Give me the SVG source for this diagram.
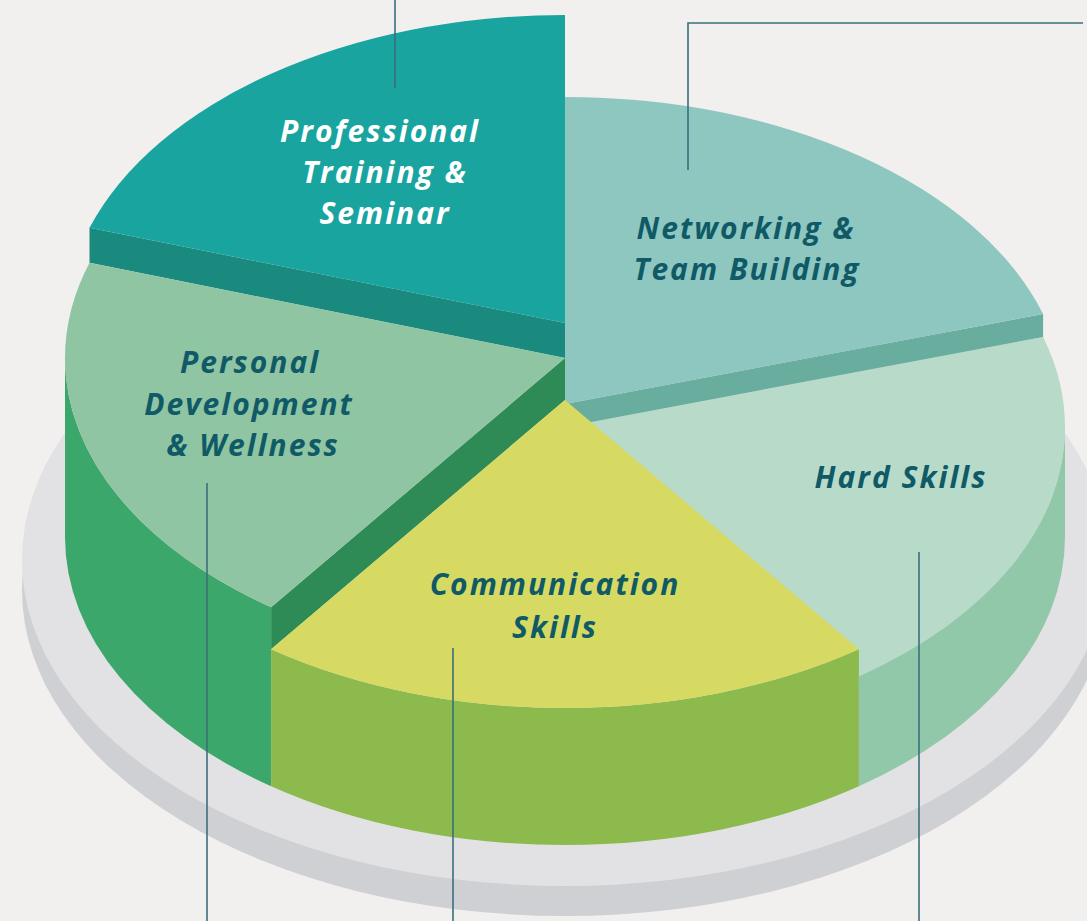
<svg xmlns="http://www.w3.org/2000/svg" width="1087" height="921" viewBox="0 0 1087 921">
  <style>
    .lbl { font-family: "Open Sans", "Noto Sans", "Liberation Sans", sans-serif; font-weight: 700; font-style: italic; font-size: 30px; letter-spacing: 2px; fill: #0f5a66; text-anchor: middle; }
    .lbl.white { fill: #ffffff; }
    .lead { fill: none; stroke: #3a6f7b; stroke-width: 1.6; }
  </style>
  <rect x="0" y="0" width="1087" height="921" fill="#f2f0ee"/>

  <g id="plate">
    <ellipse cx="565" cy="590" rx="543" ry="326" fill="#cfd0d3"/>
    <ellipse cx="565" cy="560" rx="543" ry="326" fill="#e2e2e4"/>
  </g>

  <g id="hard-skills">
    <path d="M1065,427 A500,308 0 0,1 858.9,676.2 L858.9,786.2 A500,308 0 0,0 1065,537 Z" fill="#92c8aa"/>
    <path d="M565,427 L1043.1,336.9 A500,308 0 0,1 858.9,676.2 Z" fill="#b8dac8"/>
    <text class="lbl" x="901" y="488">Hard Skills</text>
  </g>

  <g id="networking">
    <path d="M565,404 L1043.1,313.9 L1043.1,336.9 L565,427 Z" fill="#69ad9f"/>
    <path d="M565,404 L565,97 A500,308 0 0,1 1043.1,313.9 Z" fill="#8ec7c0"/>
    <text class="lbl" y="239"><tspan x="746">Networking &amp;</tspan><tspan x="747" dy="41">Team Building</tspan></text>
  </g>

  <g id="professional-training">
    <path d="M565,323 L89.5,227.8 L89.5,262.8 L565,358 Z" fill="#1b8a7e"/>
    <path d="M565,323 L89.5,227.8 A500,308 0 0,1 565,15 Z" fill="#19a49f"/>
    <text class="lbl white" y="142"><tspan x="380">Professional</tspan><tspan x="385" dy="41">Training &amp;</tspan><tspan x="385" dy="41">Seminar</tspan></text>
  </g>

  <g id="personal-development">
    <path d="M271.1,607.2 A500,308 0 0,1 65,358 L65,537 A500,308 0 0,0 271.1,786.2 Z" fill="#3ba76b"/>
    <path d="M565,358 L271.1,607.2 L271.1,649.2 L565,400 Z" fill="#2e8b55"/>
    <path d="M565,358 L271.1,607.2 A500,308 0 0,1 89.5,262.8 Z" fill="#8fc5a3"/>
    <text class="lbl" y="373"><tspan x="250">Personal</tspan><tspan x="249" dy="41.5">Development</tspan><tspan x="253" dy="41">&amp; Wellness</tspan></text>
  </g>

  <g id="communication">
    <path d="M858.9,649.2 A500,308 0 0,1 271.1,649.2 L271.1,786.2 A500,308 0 0,0 858.9,786.2 Z" fill="#8cba4c"/>
    <path d="M565,400 L858.9,649.2 A500,308 0 0,1 271.1,649.2 Z" fill="#d6da62"/>
    <text class="lbl" y="595"><tspan x="555">Communication</tspan><tspan x="555" dy="43">Skills</tspan></text>
  </g>

  <g id="connectors">
    <path class="lead" d="M395,0 V88"/>
    <path class="lead" d="M1083,23 H688 V170"/>
    <path class="lead" d="M207,483 V921"/>
    <path class="lead" d="M453,648 V921"/>
    <path class="lead" d="M919,552 V921"/>
  </g>
</svg>
